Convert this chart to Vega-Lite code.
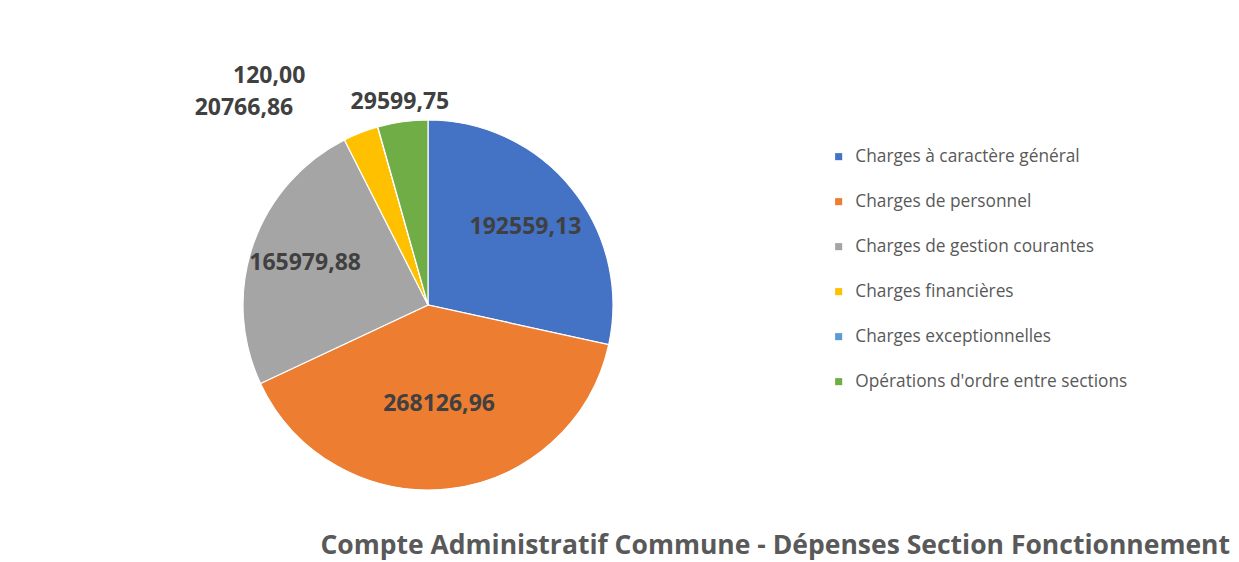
{
  "$schema": "https://vega.github.io/schema/vega-lite/v6.json",
  "width": 840,
  "height": 540,
  "autosize": {"type": "none"},
  "padding": {"left": 8, "top": 35, "right": 391, "bottom": 0},
  "background": "#ffffff",
  "data": {"values": [
    {"categorie": "Charges à caractère général", "montant": 192559.13, "ordre": 1},
    {"categorie": "Charges de personnel", "montant": 268126.96, "ordre": 2},
    {"categorie": "Charges de gestion courantes", "montant": 165979.88, "ordre": 3},
    {"categorie": "Charges financières", "montant": 20766.86, "ordre": 4},
    {"categorie": "Charges exceptionnelles", "montant": 120.00, "ordre": 5},
    {"categorie": "Opérations d'ordre entre sections", "montant": 29599.75, "ordre": 6}
  ]},
  "title": {
    "text": "Compte Administratif Commune - Dépenses Section Fonctionnement",
    "orient": "bottom",
    "anchor": "end",
    "frame": "group",
    "offset": -42,
    "dx": 382,
    "font": "Open Sans",
    "fontSize": 26.5,
    "fontWeight": "bold",
    "color": "#595959"
  },
  "encoding": {
    "theta": {"field": "montant", "type": "quantitative", "stack": true},
    "order": {"field": "ordre", "type": "quantitative", "sort": "ascending"}
  },
  "layer": [
    {
      "mark": {"type": "arc", "outerRadius": 185, "stroke": "#ffffff", "strokeWidth": 1.2},
      "encoding": {
        "color": {
          "field": "categorie",
          "type": "nominal",
          "scale": {
            "domain": ["Charges à caractère général", "Charges de personnel", "Charges de gestion courantes", "Charges financières", "Charges exceptionnelles", "Opérations d'ordre entre sections"],
            "range": ["#4472C4", "#ED7D31", "#A5A5A5", "#FFC000", "#5B9BD5", "#70AD47"]
          },
          "legend": {
            "title": null,
            "orient": "none",
            "legendX": 822,
            "legendY": 113,
            "symbolType": "square",
            "symbolSize": 50,
            "symbolStrokeWidth": 0,
            "labelFont": "Open Sans",
            "labelFontSize": 17.3,
            "labelColor": "#595959",
            "labelLimit": 400,
            "rowPadding": 27,
            "labelOffset": 8
          }
        }
      }
    },
    {
      "mark": {"type": "text", "radius": 125, "font": "Open Sans", "fontSize": 23, "fontWeight": "bold", "color": "#404040", "align": "center", "baseline": "middle"},
      "encoding": {
        "text": {"condition": {"test": "datum.ordre != 1", "value": ""}, "field": "montant", "type": "quantitative", "format": ".2f"}
      }
    },
    {
      "mark": {"type": "text", "radius": 100, "font": "Open Sans", "fontSize": 23, "fontWeight": "bold", "color": "#404040", "align": "center", "baseline": "middle"},
      "encoding": {
        "text": {"condition": {"test": "datum.ordre != 2", "value": ""}, "field": "montant", "type": "quantitative", "format": ".2f"}
      }
    },
    {
      "mark": {"type": "text", "radius": 130, "font": "Open Sans", "fontSize": 23, "fontWeight": "bold", "color": "#404040", "align": "center", "baseline": "middle"},
      "encoding": {
        "text": {"condition": {"test": "datum.ordre != 3", "value": ""}, "field": "montant", "type": "quantitative", "format": ".2f"}
      }
    },
    {
      "mark": {"type": "text", "radius": 211, "dx": -58, "font": "Open Sans", "fontSize": 23, "fontWeight": "bold", "color": "#404040", "align": "right", "baseline": "middle"},
      "encoding": {
        "text": {"condition": {"test": "datum.ordre != 4", "value": ""}, "field": "montant", "type": "quantitative", "format": ".2f"}
      }
    },
    {
      "mark": {"type": "text", "radius": 238, "dx": -58, "font": "Open Sans", "fontSize": 23, "fontWeight": "bold", "color": "#404040", "align": "right", "baseline": "middle"},
      "encoding": {
        "text": {"condition": {"test": "datum.ordre != 5", "value": ""}, "field": "montant", "type": "quantitative", "format": ".2f"}
      }
    },
    {
      "mark": {"type": "text", "radius": 205, "font": "Open Sans", "fontSize": 23, "fontWeight": "bold", "color": "#404040", "align": "center", "baseline": "middle"},
      "encoding": {
        "text": {"condition": {"test": "datum.ordre != 6", "value": ""}, "field": "montant", "type": "quantitative", "format": ".2f"}
      }
    }
  ],
  "config": {
    "view": {"stroke": null},
    "locale": {"number": {"decimal": ",", "thousands": " ", "grouping": [3], "currency": ["", " €"]}}
  }
}
